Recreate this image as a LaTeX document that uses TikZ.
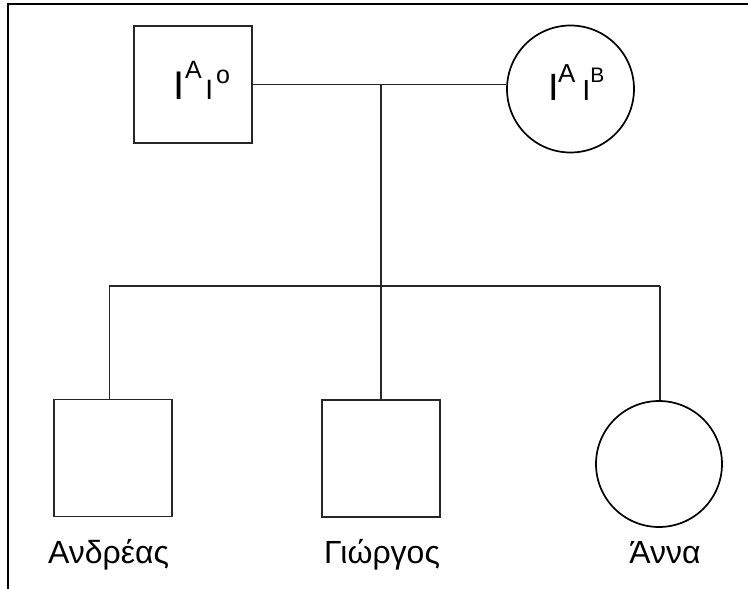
\documentclass[tikz,border=0pt]{standalone}
\usepackage{fontspec}
\setmainfont{Liberation Sans}
\begin{document}
\begin{tikzpicture}[x=1pt,y=-1pt,
  link/.style={line width=1.5pt, draw=black!85},
  male/.style={draw=black!85, line width=1.5pt, rectangle, minimum width=118pt, minimum height=117pt, inner sep=0pt},
  female/.style={draw=black, line width=1.7pt, circle, minimum size=127pt, inner sep=0pt},
  kidlabel/.style={anchor=base, inner sep=0pt, font=\fontsize{32}{32}\selectfont},
  allele/.style={anchor=base west, inner sep=0pt, outer sep=0pt}
]
\useasboundingbox (0,0) rectangle (748,589);

% page frame (left and top edges)
\draw[line width=2pt] (8.3,589) -- (8.3,3.5) -- (748,3.5);

% parents
\node[male] (father) at (193,84.5) {};
\node[female] (mother) at (570.5,89) {};

% father's genotype
\node[allele, font=\fontsize{40}{40}\selectfont] (fI1) at (173.2,99) {I};
\node[allele, font=\fontsize{25}{25}\selectfont] (fA) at (185,78) {A};
\node[allele, font=\fontsize{28}{28}\selectfont] (fI2) at (205.4,99) {I};
\node[allele, font=\fontsize{25}{25}\selectfont] (fo) at (216,83) {o};

% mother's genotype
\node[allele, font=\fontsize{38}{38}\selectfont] (mI1) at (548.4,100) {I};
\node[allele, font=\fontsize{26}{26}\selectfont] (mA) at (558,82) {A};
\node[allele, font=\fontsize{29}{29}\selectfont] (mI2) at (582.3,100) {I};
\node[allele, font=\fontsize{21}{21}\selectfont] (mB) at (590.4,82) {B};

% children
\node[male] (andreas) at (113,458) {};
\node[male] (giorgos) at (381,458.5) {};
\node[female, minimum size=126pt] (anna) at (659,464) {};

\node[kidlabel] (lA) at (108.5,563) {Ανδρέας};
\node[kidlabel] (lG) at (382,563) {Γιώργος};
\node[kidlabel] (lN) at (665,563) {Άννα};

% marriage line and descent
\coordinate (mid) at (381,84.5);
\coordinate (sib) at (381,286);
\coordinate (dA) at (109.3,286);
\coordinate (dN) at (660,286);
\draw[link] (father.east) -- (father.east -| mother.west);
\draw[link] (mid) -- (sib);
\draw[link] (dA) -- (dN);
\draw[link] (dA) -- (dA |- andreas.north);
\draw[link] (sib) -- (giorgos.north);
\draw[link] (dN) -- (dN |- anna.north);
\end{tikzpicture}
\end{document}
